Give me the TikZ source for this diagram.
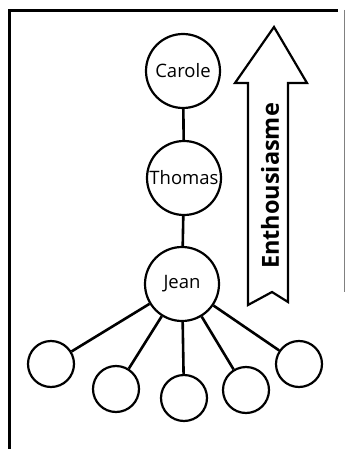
\documentclass[tikz,border=0pt]{standalone}
\usepackage{fontspec}
\setmainfont{Open Sans}
\begin{document}
\begin{tikzpicture}[x=1pt,y=-1pt,
  person/.style={circle,draw,line width=2.2pt,minimum size=74pt,inner sep=0pt,font=\fontsize{18.5}{18.5}\selectfont},
  leaf/.style={circle,draw,line width=2.2pt,minimum size=46pt,inner sep=0pt},
  link/.style={line width=2.6pt}]
\useasboundingbox (0,0) rectangle (346,449);
% frame
\draw[line width=3pt] (9.5,449) -- (9.5,10.5) -- (338,10.5);
\draw[line width=0.6pt,gray] (344.5,10) -- (344.5,292);
% people
\node[person] (carole) at (183,71) {Carole};
\node[person] (thomas) at (184,178) {Thomas};
\node[person] (jean) at (182,284) {Jean};
\node[leaf] (l1) at (51,364) {};
\node[leaf] (l2) at (116,389) {};
\node[leaf] (l3) at (184,398) {};
\node[leaf] (l4) at (246,390) {};
\node[leaf] (l5) at (299,364) {};
\draw[link] (carole) -- (thomas);
\draw[link] (thomas) -- (jean);
\foreach \l in {l1,l2,l3,l4,l5} \draw[link] (jean) -- (\l);
% arrow
\coordinate (tip) at (274,27);
\draw[line width=2.2pt,line join=miter] (tip) -- (307,83) -- (288,83) -- (288,302) -- (272,292) -- (248,305) -- (248,83) -- (235,83) -- cycle;
\node[rotate=90,font=\bfseries\fontsize{23.5}{23.5}\selectfont] (ent) at (270,186) {Enthousiasme};
\end{tikzpicture}
\end{document}
